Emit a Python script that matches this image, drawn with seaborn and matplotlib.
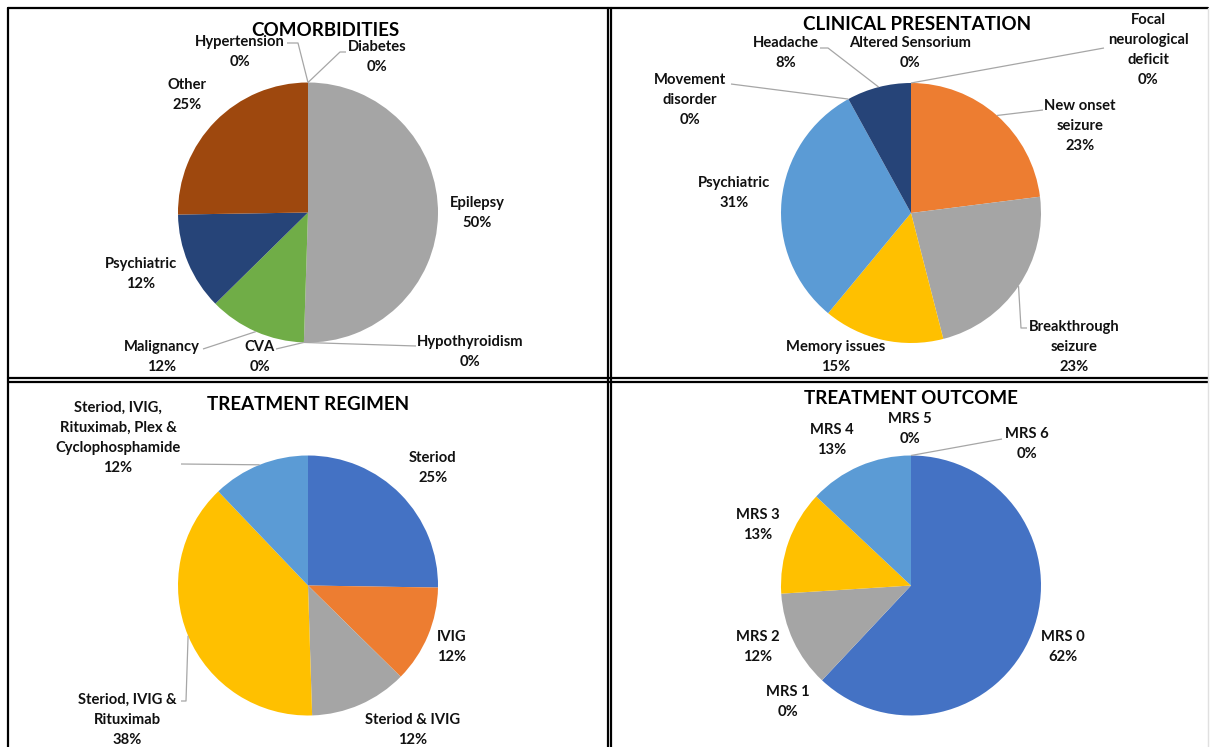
import matplotlib
matplotlib.use("Agg")
import matplotlib.pyplot as plt
import seaborn as sns
import numpy as np
from matplotlib.lines import Line2D

# ---------------- data ----------------
titles = ["COMORBIDITIES", "CLINICAL PRESENTATION", "TREATMENT REGIMEN", "TREATMENT OUTCOME"]

como_categories = ["Diabetes", "Hypertension", "Epilepsy", "Hypothyroidism",
                   "CVA", "Malignancy", "Psychiatric", "Other"]
como_values = [0, 0, 50, 0, 0, 12, 12, 25]

clin_categories = ["Focal\nneurological\ndeficit", "New onset\nseizure", "Breakthrough\nseizure",
                   "Memory issues", "Psychiatric", "Movement\ndisorder", "Headache",
                   "Altered Sensorium"]
clin_values = [0, 23, 23, 15, 31, 0, 8, 0]

regimen_categories = ["Steriod", "IVIG", "Steriod & IVIG", "Steriod, IVIG &\nRituximab",
                      "Steriod, IVIG,\nRituximab, Plex &\nCyclophosphamide"]
regimen_values = [25, 12, 12, 38, 12]

outcome_categories = ["MRS 0", "MRS 1", "MRS 2", "MRS 3", "MRS 4", "MRS 5", "MRS 6"]
outcome_values = [62, 0, 12, 13, 13, 0, 0]

# Excel office palette
palette = sns.color_palette(["#4472C4", "#ED7D31", "#A5A5A5", "#FFC000",
                             "#5B9BD5", "#70AD47", "#264478", "#9E480E"])

# ---------------- layout (image pixel coordinates) ----------------
W, H = 1210, 747
R = 130
layout = [
    dict(center=(308, 212.5), title_xy=(325, 30),
         labels=[(377, 57), (240, 52), (477, 213), (470, 352), (260, 357), (162, 357), (141, 274), (187, 95)],
         leaders={0: [(346, 52), (340, 52)], 1: [(287, 43), (298, 43)],
                  3: [(416, 346)], 4: [(276, 349)], 5: [(203, 349)]}),
    dict(center=(911, 213), title_xy=(917, 25),
         labels=[(1148, 50), (1080, 126), (1074, 347), (836, 357), (734, 193), (690, 100), (786, 53), (910, 53)],
         leaders={0: [(1104, 48)], 1: [(1043, 110)], 2: [(1027, 328), (1021, 328)],
                  5: [(731, 84)], 6: [(820, 48), (828, 48)]}),
    dict(center=(308, 585.5), title_xy=(308, 405),
         labels=[(433, 468), (452, 647), (413, 730), (127, 720), (118, 438)],
         leaders={3: [(181, 701), (186, 701)], 4: [(181, 464)]}),
    dict(center=(911, 585.5), title_xy=(911, 399),
         labels=[(1063, 647), (788, 702), (758, 647), (758, 525), (832, 440), (910, 429), (1027, 444)],
         leaders={6: [(1002, 439)]}),
]

sns.set_theme(style="white")
plt.rcParams["font.family"] = ["Lato", "DejaVu Sans"]

fig = plt.figure(figsize=(W / 100, H / 100), dpi=100)
fig.patch.set_facecolor("white")

panels = [(como_categories, como_values), (clin_categories, clin_values),
          (regimen_categories, regimen_values), (outcome_categories, outcome_values)]

TXT = "#111111"
for (cats, vals), title, lay in zip(panels, titles, layout):
    cx, cy = lay["center"]
    ax = fig.add_axes([0, 0, 1, 1])
    ax.patch.set_alpha(0)
    to_d = lambda p: (p[0] - cx, cy - p[1])
    wedges, _ = ax.pie(vals, colors=palette[:len(vals)], startangle=90, counterclock=False,
                       radius=R, center=(0, 0), wedgeprops=dict(linewidth=0))
    ax.set_xlim(-cx, W - cx)
    ax.set_ylim(cy - H, cy)
    ax.set_aspect("auto")
    ax.axis("off")
    ax.text(*to_d(lay["title_xy"]), title, ha="center", va="center", fontsize=13.5,
            fontweight="bold", color="black")
    for i, (cat, v) in enumerate(zip(cats, vals)):
        ax.text(*to_d(lay["labels"][i]), f"{cat}\n{v}%", ha="center", va="center",
                multialignment="center", fontsize=10.6, fontweight="bold", color=TXT,
                linespacing=1.56)
    for i, pts in lay["leaders"].items():
        w = wedges[i]
        th = np.deg2rad((w.theta1 + w.theta2) / 2)
        anchor = (R * np.cos(th), R * np.sin(th))
        path = [to_d(p) for p in pts] + [anchor]
        xs, ys = zip(*path)
        ax.plot(xs, ys, color="#A6A6A6", lw=0.9, solid_capstyle="butt")

# panel borders
def hline(y, x0, x1, color="black", lw=1.6):
    fig.add_artist(Line2D([x0 / W, x1 / W], [1 - y / H, 1 - y / H], transform=fig.transFigure,
                          color=color, lw=lw))

def vline(x, y0, y1, color="black", lw=1.6):
    fig.add_artist(Line2D([x / W, x / W], [1 - y0 / H, 1 - y1 / H], transform=fig.transFigure,
                          color=color, lw=lw))

hline(8, 8, 1208)
hline(378, 8, 1208)
hline(382, 8, 1208)
vline(8, 8, 747)
vline(608, 8, 747)
vline(611, 8, 747)
vline(1208, 8, 747, color="#E0E0E0", lw=1)

fig.savefig("out.png", dpi=100, facecolor="white")
